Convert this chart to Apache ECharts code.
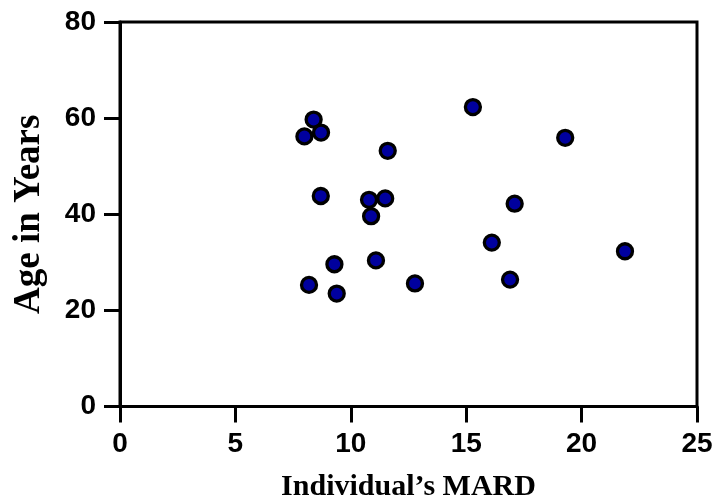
<!DOCTYPE html>
<html>
<head>
<meta charset="utf-8">
<script src="https://cdn.jsdelivr.net/npm/echarts@6/dist/echarts.min.js"></script>
<style>
  html, body { margin: 0; padding: 0; background: #fff; }
  #chart { width: 715px; height: 502px; }
</style>
</head>
<body>
<div id="chart"></div>
<script>
// individual's MARD (x) and age in years (y)
var mard = [7.99, 8.39, 8.71, 8.70, 8.19, 9.29, 9.39, 10.79, 10.88, 11.09,
            11.49, 11.60, 12.78, 15.29, 16.11, 16.90, 17.10, 19.29, 21.88];
var age = [56.2, 59.7, 57.0, 43.8, 25.3, 29.6, 23.5, 43.0, 39.6, 30.4,
           43.3, 53.2, 25.6, 62.3, 34.1, 26.4, 42.2, 55.9, 32.3];

var xTitle = "Individual’s MARD";
var yTitle = "Age in Years";

var points = [];
for (var i = 0; i < mard.length; i++) {
  points.push([mard[i], age[i]]);
}

var tickFont = {
  fontFamily: "Liberation Sans, Arial, sans-serif",
  fontWeight: "bold",
  fontSize: 28,
  color: "#000"
};

var myChart = echarts.init(document.getElementById("chart"), null, { renderer: "canvas" });
myChart.setOption({
  animation: false,
  backgroundColor: "#fff",
  grid: {
    left: 120,
    right: 18,
    top: 22,
    bottom: 95.5,
    show: true,
    borderColor: "#000",
    borderWidth: 3,
    outerBoundsMode: "none"
  },
  xAxis: {
    type: "value",
    min: 0,
    max: 25,
    interval: 5,
    name: xTitle,
    nameLocation: "middle",
    nameGap: 66,
    nameTextStyle: {
      fontFamily: "Liberation Serif, Times New Roman, serif",
      fontWeight: "bold",
      fontSize: 30,
      color: "#000"
    },
    axisLine: { show: true, lineStyle: { color: "#000", width: 3 } },
    axisTick: { show: true, length: 16, lineStyle: { color: "#000", width: 3 } },
    axisLabel: Object.assign({ margin: 24 }, tickFont),
    splitLine: { show: false }
  },
  yAxis: {
    type: "value",
    min: 0,
    max: 80,
    interval: 20,
    name: yTitle,
    nameLocation: "middle",
    nameGap: 72,
    nameTextStyle: {
      fontFamily: "Liberation Serif, Times New Roman, serif",
      fontWeight: "bold",
      fontSize: 37,
      color: "#000"
    },
    axisLine: { show: true, lineStyle: { color: "#000", width: 3 } },
    axisTick: { show: true, length: 16, lineStyle: { color: "#000", width: 3 } },
    axisLabel: Object.assign({ margin: 24 }, tickFont),
    splitLine: { show: false }
  },
  series: [
    {
      type: "scatter",
      data: points,
      symbol: "circle",
      symbolSize: 15,
      itemStyle: {
        color: "#00009e",
        borderColor: "#000",
        borderWidth: 3.3,
        opacity: 1
      }
    }
  ]
});
</script>
</body>
</html>
